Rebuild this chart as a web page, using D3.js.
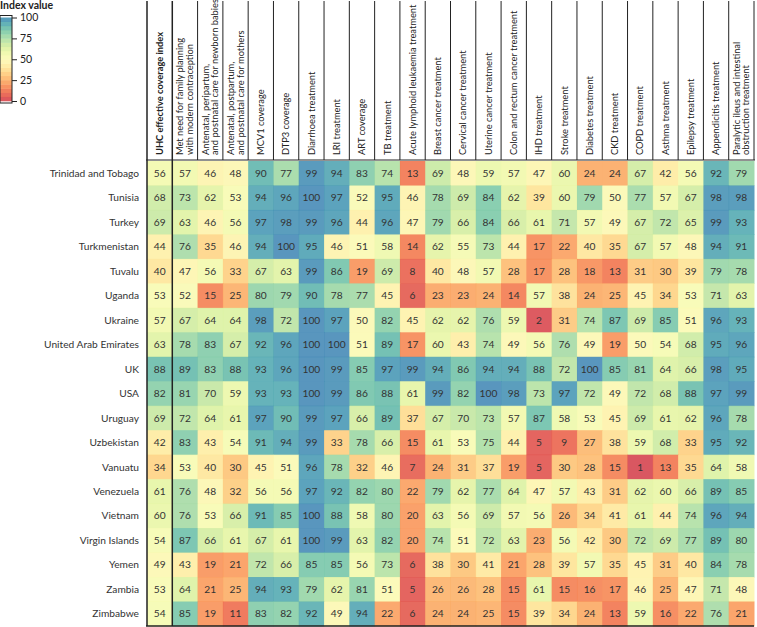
<!DOCTYPE html>
<html><head><meta charset="utf-8">
<script src="https://cdn.jsdelivr.net/npm/d3@7"></script>
<style>body{margin:0;background:#fff}svg{display:block;font-family:Lato,"Open Sans",sans-serif}</style>
</head><body><svg id="c" width="757" height="627"></svg>
<script>
const columns = [
 ["UHC effective coverage index"],
 ["Met need for family planning","with modern contraception"],
 ["Antenatal, peripartum,","and postnatal care for newborn babies"],
 ["Antenatal, postpartum,","and postnatal care for mothers"],
 ["MCV1 coverage"],["DTP3 coverage"],["Diarrhoea treatment"],["LRI treatment"],
 ["ART coverage"],["TB treatment"],["Acute lymphoid leukaemia treatment"],
 ["Breast cancer treatment"],["Cervical cancer treatment"],["Uterine cancer treatment"],
 ["Colon and rectum cancer treatment"],["IHD treatment"],["Stroke treatment"],
 ["Diabetes treatment"],["CKD treatment"],["COPD treatment"],["Asthma treatment"],
 ["Epilepsy treatment"],["Appendicitis treatment"],
 ["Paralytic ileus and intestinal","obstruction treatment"]
];
const countries = ["Trinidad and Tobago","Tunisia","Turkey","Turkmenistan","Tuvalu","Uganda","Ukraine","United Arab Emirates","UK","USA","Uruguay","Uzbekistan","Vanuatu","Venezuela","Vietnam","Virgin Islands","Yemen","Zambia","Zimbabwe"];
const values = [
 [56,57,46,48,90,77,99,94,83,74,13,69,48,59,57,47,60,24,24,67,42,56,92,79],
 [68,73,62,53,94,96,100,97,52,95,46,78,69,84,62,39,60,79,50,77,57,67,98,98],
 [69,63,46,56,97,98,99,96,44,96,47,79,66,84,66,61,71,57,49,67,72,65,99,93],
 [44,76,35,46,94,100,95,46,51,58,14,62,55,73,44,17,22,40,35,67,57,48,94,91],
 [40,47,56,33,67,63,99,86,19,69,8,40,48,57,28,17,28,18,13,31,30,39,79,78],
 [53,52,15,25,80,79,90,78,77,45,6,23,23,24,14,57,38,24,25,45,34,53,71,63],
 [57,67,64,64,98,72,100,97,50,82,45,62,62,76,59,2,31,74,87,69,85,51,96,93],
 [63,78,83,67,92,96,100,100,51,89,17,60,43,74,49,56,76,49,19,50,54,68,95,96],
 [88,89,83,88,93,96,100,99,85,97,99,94,86,94,94,88,72,100,85,81,64,66,98,95],
 [82,81,70,59,93,93,100,99,86,88,61,99,82,100,98,73,97,72,49,72,68,88,97,99],
 [69,72,64,61,97,90,99,97,66,89,37,67,70,73,57,87,58,53,45,69,61,62,96,78],
 [42,83,43,54,91,94,99,33,78,66,15,61,53,75,44,5,9,27,38,59,68,33,95,92],
 [34,53,40,30,45,51,96,78,32,46,7,24,31,37,19,5,30,28,15,1,13,35,64,58],
 [61,76,48,32,56,56,97,92,82,80,22,79,62,77,64,47,57,43,31,62,60,66,89,85],
 [60,76,53,66,91,85,100,88,58,80,20,63,56,69,57,56,26,34,41,61,44,74,96,94],
 [54,87,66,61,67,61,100,99,63,82,20,74,51,72,63,23,56,42,30,72,69,77,89,80],
 [49,43,19,21,72,66,85,85,56,73,6,38,30,41,21,28,39,57,35,45,31,40,84,78],
 [53,64,21,25,94,93,79,62,81,51,5,26,26,28,15,61,15,16,17,46,25,47,71,48],
 [54,85,19,11,83,82,92,49,94,22,6,24,24,25,15,39,34,24,13,59,16,22,76,21]
];
const legendTicks = [0,25,50,75,100];

const svg = d3.select("#c");
const colIdx = d3.range(columns.length);
const x = d3.scaleBand().domain(colIdx).range([147, 754]);
const y = d3.scaleBand().domain(countries).range([161, 626]);
const color = v => d3.interpolateSpectral(0.1 + 0.8 * v / 100);

// cells
const rows = svg.append("g").selectAll("g").data(values).join("g");
rows.selectAll("rect").data((d,i)=>d.map((v,j)=>({v,j,c:countries[i]}))).join("rect")
  .attr("x", d=>x(d.j)).attr("y", d=>y(d.c))
  .attr("width", x.bandwidth()+0.5).attr("height", y.bandwidth()+0.5)
  .attr("fill", d=>color(d.v)).attr("fill-opacity",0.88);
rows.selectAll("text").data((d,i)=>d.map((v,j)=>({v,j,c:countries[i]}))).join("text")
  .attr("x", d=>x(d.j)+x.bandwidth()/2).attr("y", d=>y(d.c)+y.bandwidth()/2+3.6)
  .attr("text-anchor","middle").attr("font-size",10.2).attr("fill","#333")
  .text(d=>d.v);

// row labels
svg.append("g").selectAll("text").data(countries).join("text")
  .attr("x",139).attr("y",d=>y(d)+y.bandwidth()/2+3.6)
  .attr("text-anchor","end").attr("font-size",10.2).attr("fill","#333").text(d=>d);

// header lines
const hdr = svg.append("g").attr("stroke","#222");
hdr.selectAll("line.v").data(d3.range(columns.length+1)).join("line")
  .attr("x1",i=>i<columns.length?x(i):754).attr("x2",i=>i<columns.length?x(i):754)
  .attr("y1",1).attr("y2",i=>(i<=1)?626:160)
  .attr("stroke-width",i=>(i<=1)?1.5:1);
hdr.append("line").attr("x1",146).attr("x2",755).attr("y1",160).attr("y2",160).attr("stroke-width",1.2);
hdr.append("line").attr("x1",146).attr("x2",754).attr("y1",626).attr("y2",626).attr("stroke-width",1.5);

// header labels
const lh = 9.6;
columns.forEach((lines,i)=>{
  const cx = x(i)+x.bandwidth()/2;
  const n = lines.length;
  lines.forEach((t,k)=>{
    const px = cx + (k-(n-1)/2)*lh + 3.3;
    svg.append("text").attr("transform",`translate(${px},155) rotate(-90)`)
      .attr("font-size",9.3).attr("fill","#222")
      .attr("font-weight", i===0?"bold":"normal").text(t);
  });
});

// legend
svg.append("text").attr("x",0).attr("y",9).attr("font-size",10.5).attr("font-weight","bold").attr("fill","#222").text("Index value");
const ly = d3.scaleLinear().domain([0,100]).range([101,17.5]);
const nb = 20;
svg.append("g").selectAll("rect").data(d3.range(nb)).join("rect")
  .attr("x",0).attr("width",12)
  .attr("y",i=>ly((i+1)*100/nb)).attr("height",i=>ly(i*100/nb)-ly((i+1)*100/nb)+0.3)
  .attr("fill",i=>color((i+0.5)*100/nb)).attr("fill-opacity",0.9);
svg.append("rect").attr("x",0).attr("y",ly(100)-2).attr("width",12).attr("height",ly(0)-ly(100)+4)
  .attr("fill","none").attr("stroke","#222").attr("stroke-width",1);
const ax = svg.append("g").attr("transform","translate(12,0)")
  .call(d3.axisRight(ly).tickValues(legendTicks).tickSize(5).tickPadding(3));
ax.select(".domain").remove();
ax.selectAll("text").attr("font-size",10.5).attr("fill","#222").attr("font-family","Lato,sans-serif");
ax.selectAll("line").attr("stroke","#222");
</script></body></html>
